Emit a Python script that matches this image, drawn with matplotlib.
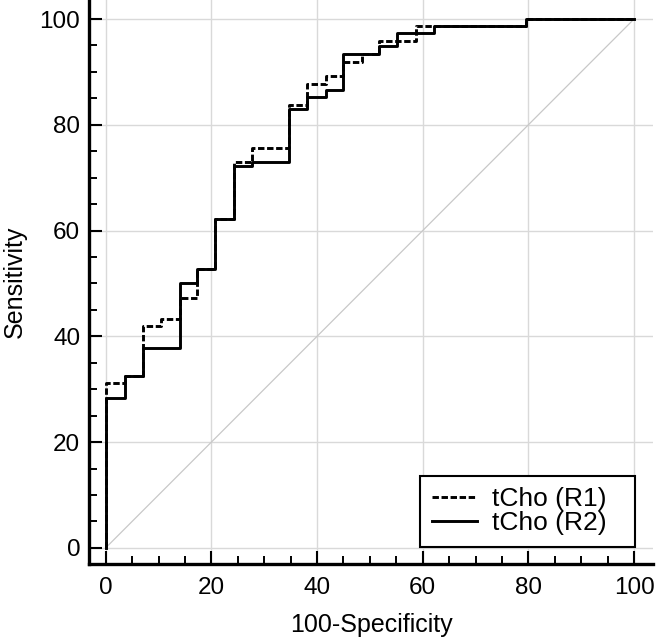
import matplotlib.pyplot as plt

plt.rcParams['font.family'] = ['Liberation Sans', 'DejaVu Sans']

# ROC step corners (100-Specificity, Sensitivity)
r1_fpr = [0, 0, 3.6, 7.1, 10.5, 14.0, 17.2, 20.7, 24.2, 27.7, 34.6, 38.1, 41.6, 44.9, 48.5, 51.8, 58.8, 62.1, 79.5, 100]
r1_tpr = [0, 31.2, 32.5, 42.0, 43.3, 47.3, 52.7, 62.2, 73.0, 75.7, 83.8, 87.8, 89.2, 91.9, 93.3, 95.9, 98.7, 98.7, 100, 100]

r2_fpr = [0, 0, 3.6, 7.1, 14.0, 17.2, 20.7, 24.2, 27.7, 34.6, 38.1, 41.6, 44.9, 51.8, 55.2, 62.1, 79.5, 100]
r2_tpr = [0, 28.3, 32.5, 37.8, 50.0, 52.7, 62.2, 72.3, 73.0, 82.9, 85.3, 86.5, 93.3, 94.9, 97.3, 98.7, 100, 100]

labels = ['tCho (R1)', 'tCho (R2)']
ticks = [0, 20, 40, 60, 80, 100]

fig = plt.figure(figsize=(6.57, 6.39), dpi=100)
ax = fig.add_axes([0.136, 0.117, 0.858, 0.883])

ax.plot([0, 100], [0, 100], color='#c8c8c8', lw=0.9, zorder=1)
ax.plot(r1_fpr, r1_tpr, drawstyle='steps-post', color='black', lw=2.1,
        dashes=(2.2, 0.9), label=labels[0], zorder=3)
ax.plot(r2_fpr, r2_tpr, drawstyle='steps-post', color='black', lw=2.1,
        label=labels[1], zorder=3)

ax.set_xlim(-3.1, 103.6)
ax.set_ylim(-3.1, 103.6)
ax.set_xticks(ticks)
ax.set_yticks(ticks)
ax.set_xticks(range(0, 101, 5), minor=True)
ax.set_yticks(range(0, 101, 5), minor=True)
ax.grid(True, which='major', color='#d9d9d9', lw=1.0, zorder=0)
ax.set_axisbelow(True)

for s in ['top', 'right']:
    ax.spines[s].set_visible(False)
for s in ['left', 'bottom']:
    ax.spines[s].set_linewidth(2.4)

ax.tick_params(which='major', direction='in', length=9.5, width=1.5, labelsize=17.5)
ax.tick_params(which='minor', direction='in', length=5.5, width=1.4)
ax.tick_params(axis='x', which='major', pad=9.5)
ax.tick_params(axis='y', which='major', pad=6.5)

ax.set_xlabel('100-Specificity', fontsize=18, labelpad=10)
ax.set_ylabel('Sensitivity', fontsize=18, labelpad=9)

# legend box stretched to the width seen in the reference
leg = ax.legend(loc='lower left', bbox_to_anchor=(0.5865, 0.030, 0.3815, 0.1), mode='expand',
                borderaxespad=0, fontsize=19, fancybox=False, framealpha=1, edgecolor='black',
                handlelength=1.7, handletextpad=0.57, labelspacing=0.0, borderpad=0.45)
leg.get_frame().set_linewidth(1.5)

fig.savefig('out.png', dpi=100)
